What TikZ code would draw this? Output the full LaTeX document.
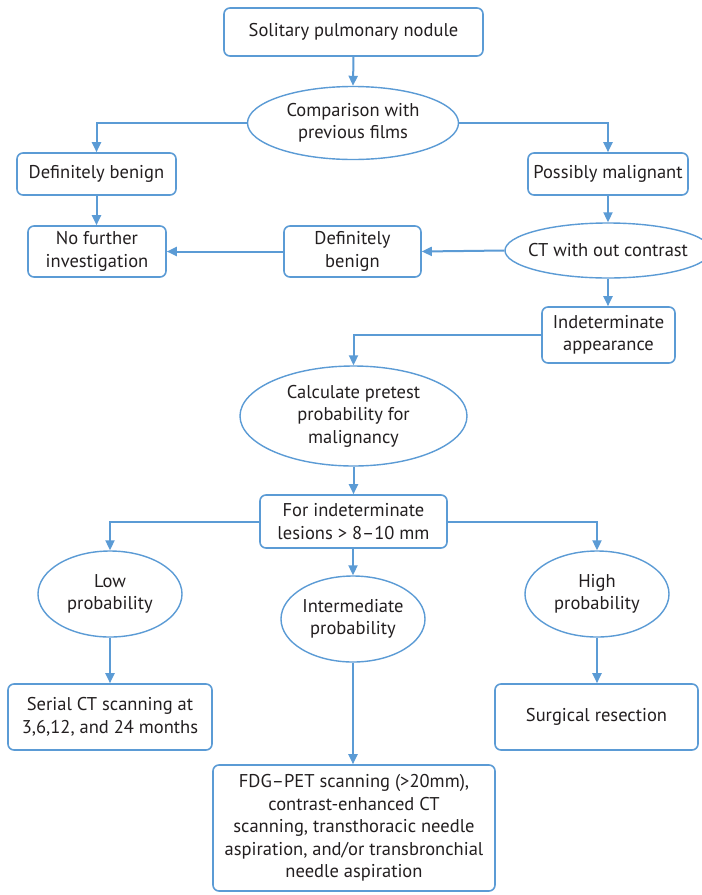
\documentclass[tikz,border=0pt]{standalone}
\usepackage{fontspec}
\setmainfont{PT Sans}
\usetikzlibrary{shapes.geometric,arrows.meta}
\definecolor{lineblue}{HTML}{5B9BD5}
\definecolor{txt}{HTML}{231F20}
\begin{document}
\begin{tikzpicture}[x=1pt,y=-1pt,
  every node/.style={font=\fontsize{18.5}{22.5}\selectfont, text=txt, align=center},
  rbox/.style={draw=lineblue, line width=1.6pt, rounded corners=6pt, inner sep=0pt},
  oval/.style={draw=lineblue, line width=1.4pt, ellipse, inner sep=0pt},
  conn/.style={draw=lineblue, line width=2pt, -{Triangle[length=10pt,width=9pt]}}]
\fill[white] (0,0) rectangle (702,895);
\useasboundingbox (0,0) rectangle (702,895);
\node[rbox, minimum width=259pt, minimum height=48pt] (sol) at (353.5,32) {Solitary pulmonary nodule};
\node[oval, minimum width=211pt, minimum height=73pt] (cmp) at (353,123) {Comparison with\\previous films};
\node[rbox, minimum width=159pt, minimum height=42pt] (db1) at (96.5,174) {Definitely benign};
\node[rbox, minimum width=160pt, minimum height=42pt] (pm) at (608,174) {Possibly malignant};
\node[rbox, minimum width=138pt, minimum height=51pt] (nfi) at (97,251.5) {No further\\investigation};
\node[rbox, minimum width=137pt, minimum height=51pt] (db2) at (352.5,251.5) {Definitely\\benign};
\node[oval, inner xsep=-12pt, minimum width=206pt, minimum height=55pt] (ct) at (608,250.5) {CT with out contrast};
\node[rbox, minimum width=133pt, minimum height=56pt] (ind) at (608.5,335) {Indeterminate\\appearance};
\node[oval, minimum width=227pt, minimum height=100pt] (calc) at (353.5,416) {Calculate pretest\\probability for\\malignancy};
\node[rbox, minimum width=187pt, minimum height=53pt] (fi) at (353.5,521.5) {For indeterminate\\lesions > 8–10 mm};
\node[oval, minimum width=144pt, minimum height=86pt] (low) at (110,594) {Low\\probability};
\node[oval, minimum width=144pt, minimum height=86pt] (mid) at (353,619) {Intermediate\\probability};
\node[oval, minimum width=144pt, minimum height=86pt] (high) at (597,594) {High\\probability};
\node[rbox, minimum width=204pt, minimum height=66pt] (ser) at (110,717) {Serial CT scanning at\\3,6,12, and 24 months};
\node[rbox, minimum width=203pt, minimum height=66pt] (sur) at (596.5,717) {Surgical resection};
\node[rbox, minimum width=282pt, minimum height=126pt] (fdg) at (354,828) {FDG–PET scanning (>20mm),\\contrast-enhanced CT\\scanning, transthoracic needle\\aspiration, and/or transbronchial\\needle aspiration};
\draw[conn] (sol.south) -- (cmp.north);
\draw[conn] (cmp.west) -| (db1.north);
\draw[conn] (cmp.east) -| (pm.north);
\draw[conn] (db1.south) -- (nfi.north -| db1.south);
\draw[conn] (pm.south) -- (ct.north);
\draw[conn] (ct.west) -- (db2.east);
\draw[conn] (db2.west) -- (nfi.east);
\draw[conn] (ct.south) -- (ind.north -| ct.south);
\draw[conn] (ind.west) -| (calc.north);
\draw[conn] (calc.south) -- (fi.north);
\draw[conn] (fi.west) -| (low.north);
\draw[conn] (fi.east) -| (high.north);
\draw[conn] (fi.south -| mid.north) -- (mid.north);
\draw[conn] (low.south) -- (ser.north);
\draw[conn] (high.south) -- (high.south |- sur.north);
\draw[conn] (mid.south) -- (mid.south |- fdg.north);
\end{tikzpicture}
\end{document}
